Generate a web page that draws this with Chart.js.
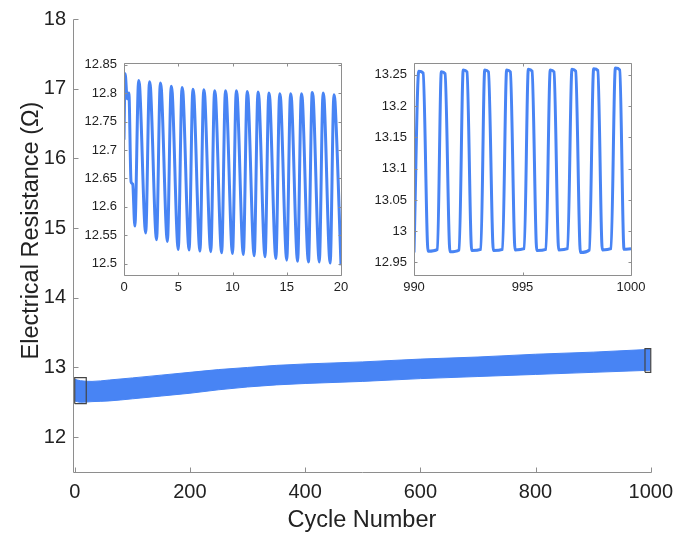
<!DOCTYPE html>
<html>
<head>
<meta charset="utf-8">
<title>Electrical resistance vs cycle number</title>
<script src="https://cdn.jsdelivr.net/npm/chart.js@4.4.1/dist/chart.umd.min.js"></script>
<style>
    body { margin: 0; background: #fff; }
    #wrap { position: relative; width: 681px; height: 538px; }
    #wrap canvas { position: absolute; left: 0; top: 0; }
</style>
</head>
<body>
<div id="wrap">
    <canvas id="mainChart" width="681" height="538"></canvas>
    <canvas id="leftInset" width="681" height="538"></canvas>
    <canvas id="rightInset" width="681" height="538"></canvas>
</div>
<script>
// envelope of the resistance band over all 1000 cycles
const bandX = [0, 10, 30, 60, 100, 150, 200, 250, 300, 350, 400, 500, 600, 700, 800, 900, 1000]
const bandUpper = [12.83, 12.81, 12.80, 12.82, 12.85, 12.89, 12.93, 12.97, 13.00, 13.03, 13.05, 13.08, 13.12, 13.15, 13.19, 13.22, 13.26]
const bandLower = [12.52, 12.50, 12.51, 12.52, 12.55, 12.59, 12.63, 12.68, 12.72, 12.75, 12.77, 12.80, 12.84, 12.87, 12.90, 12.93, 12.96]

// first 20 cycles
const leftX = [0, 0.1, 0.3, 0.45, 0.65, 0.8, 1.0,
    1.35, 1.45, 2.0, 2.35, 2.45, 3.0, 3.35, 3.45, 4.0, 4.35, 4.45, 5.0,
    5.35, 5.45, 6.0, 6.35, 6.45, 7.0, 7.35, 7.45, 8.0, 8.35, 8.45, 9.0,
    9.35, 9.45, 10.0, 10.35, 10.45, 11.0, 11.35, 11.45, 12.0, 12.35, 12.45, 13.0,
    13.35, 13.45, 14.0, 14.35, 14.45, 15.0, 15.35, 15.45, 16.0, 16.35, 16.45, 17.0,
    17.35, 17.45, 18.0, 18.35, 18.45, 19.0, 19.35, 19.45, 20.0]
const leftY = [12.718, 12.834, 12.790, 12.800, 12.644, 12.640, 12.566,
    12.822, 12.810, 12.554, 12.820, 12.808, 12.542, 12.818, 12.806, 12.539, 12.812, 12.800, 12.525,
    12.810, 12.798, 12.524, 12.807, 12.795, 12.522, 12.806, 12.794, 12.521, 12.804, 12.792, 12.519,
    12.804, 12.792, 12.518, 12.804, 12.792, 12.516, 12.803, 12.791, 12.514, 12.802, 12.790, 12.512,
    12.800, 12.788, 12.509, 12.799, 12.787, 12.506, 12.799, 12.787, 12.504, 12.799, 12.787, 12.503,
    12.801, 12.789, 12.503, 12.800, 12.788, 12.501, 12.797, 12.785, 12.497]

// last 10 cycles
const rightX = [990.0, 990.22, 990.42, 990.65, 991.08,
    991.26, 991.43, 991.66, 992.08, 992.27, 992.44, 992.66, 993.08,
    993.26, 993.43, 993.66, 994.08, 994.27, 994.44, 994.66, 995.08,
    995.27, 995.44, 995.66, 996.08, 996.28, 996.45, 996.67, 997.08,
    997.28, 997.45, 997.67, 998.08, 998.28, 998.47, 998.68, 999.08,
    999.28, 999.48, 999.68, 1000.0]
const rightY = [12.966, 13.256, 13.253, 12.968, 12.971,
    13.255, 13.252, 12.967, 12.970, 13.258, 13.255, 12.969, 12.971,
    13.258, 13.255, 12.969, 12.971, 13.258, 13.255, 12.970, 12.972,
    13.259, 13.256, 12.969, 12.971, 13.258, 13.255, 12.970, 12.972,
    13.259, 13.256, 12.966, 12.970, 13.260, 13.257, 12.970, 12.972,
    13.261, 13.258, 12.971, 12.972]

// axis limits of the two zoomed views
const leftRangeX = [0, 20]
const leftRangeY = [12.48, 12.853]
const rightRangeX = [990, 1000]
const rightRangeY = [12.93, 13.269]

// tick labels
const mainXTicks = [0, 200, 400, 600, 800, 1000]
const mainYTicks = [12, 13, 14, 15, 16, 17, 18]
const leftXTicks = [0, 5, 10, 15, 20]
const leftYTicks = [12.5, 12.55, 12.6, 12.65, 12.7, 12.75, 12.8, 12.85]
const rightXTicks = [990, 995, 1000]
const rightYTicks = [12.95, 13, 13.05, 13.1, 13.15, 13.2, 13.25]

const blue = '#4884f4'
const axisGray = '#8e8e8e'
const fontFamily = '"Liberation Sans", Arial, Helvetica, sans-serif'

Chart.defaults.font.family = fontFamily
Chart.defaults.color = '#222'
Chart.defaults.animation = false
Chart.defaults.plugins.legend.display = false
Chart.defaults.plugins.tooltip.enabled = false

const toPoints = (xs, ys) => xs.map((x, i) => ({ x: x, y: ys[i] }))
const boxPoints = (xr, yr) => [
    { x: xr[0], y: yr[0] }, { x: xr[1], y: yr[0] },
    { x: xr[1], y: yr[1] }, { x: xr[0], y: yr[1] }, { x: xr[0], y: yr[0] }
]
const plainNum = v => String(Math.round(v * 100) / 100)
const fixedTicks = values => scale => { scale.ticks = values.map(v => ({ value: v })) }

// matlab style axes: inward ticks, optional full box, optional y label
const frame = {
    id: 'frame',
    afterDatasetsDraw(chart, args, opts) {
        const { ctx, chartArea: a, scales: { x, y } } = chart
        const L = Math.round(a.left) + 0.5
        const R = Math.round(a.right) + 0.5
        const T = Math.round(a.top) + 0.5
        const B = Math.round(a.bottom) + 0.5
        ctx.save()
        ctx.strokeStyle = opts.color
        ctx.lineWidth = 1
        ctx.beginPath()
        if (opts.box) {
            ctx.rect(L, T, R - L, B - T)
        } else {
            ctx.moveTo(L, T)
            ctx.lineTo(L, B)
            ctx.lineTo(R, B)
        }
        x.ticks.forEach(t => {
            const px = Math.round(x.getPixelForValue(t.value)) + 0.5
            ctx.moveTo(px, B)
            ctx.lineTo(px, B - opts.len)
            if (opts.box) {
                ctx.moveTo(px, T)
                ctx.lineTo(px, T + opts.len)
            }
        })
        y.ticks.forEach(t => {
            const py = Math.round(y.getPixelForValue(t.value)) + 0.5
            ctx.moveTo(L, py)
            ctx.lineTo(L + opts.len, py)
            if (opts.box) {
                ctx.moveTo(R, py)
                ctx.lineTo(R - opts.len, py)
            }
        })
        ctx.stroke()

        if (opts.yLabel) {
            ctx.translate(32, (a.top + a.bottom) / 2 - 15)
            ctx.rotate(-Math.PI / 2)
            ctx.fillStyle = '#222'
            ctx.font = '23.5px ' + fontFamily
            ctx.textAlign = 'center'
            ctx.textBaseline = 'middle'
            ctx.fillText(opts.yLabel, 0, 0)
        }
        ctx.restore()
    }
}

const mainChart = new Chart(document.getElementById('mainChart'), {
    type: 'line',
    plugins: [frame],
    data: {
        datasets: [
            {
                data: boxPoints(leftRangeX, leftRangeY),
                borderColor: '#444',
                borderWidth: 1.2,
                pointRadius: 0,
                clip: 6
            },
            {
                data: boxPoints(rightRangeX, rightRangeY),
                borderColor: '#444',
                borderWidth: 1.2,
                pointRadius: 0,
                clip: 6
            },
            {
                data: toPoints(bandX, bandLower),
                borderColor: blue,
                borderWidth: 1,
                pointRadius: 0,
                cubicInterpolationMode: 'monotone'
            },
            {
                data: toPoints(bandX, bandUpper),
                borderColor: blue,
                backgroundColor: blue,
                borderWidth: 1,
                pointRadius: 0,
                cubicInterpolationMode: 'monotone',
                fill: 2
            }
        ]
    },
    options: {
        responsive: false,
        layout: {
            padding: { left: 0, top: 14, right: 25, bottom: 0 }
        },
        plugins: {
            frame: { box: false, len: 5, color: axisGray, yLabel: 'Electrical Resistance (Ω)' }
        },
        scales: {
            x: {
                type: 'linear',
                min: -3,
                max: 1000,
                grid: { display: false, drawTicks: false },
                border: { display: false },
                ticks: {
                    padding: 8,
                    maxRotation: 0,
                    font: { size: 20 },
                    callback: plainNum
                },
                title: {
                    display: true,
                    text: 'Cycle Number',
                    font: { size: 23.5 },
                    padding: { top: 0, bottom: 3 }
                },
                afterBuildTicks: fixedTicks(mainXTicks),
                afterFit: scale => { scale.height = 66 }
            },
            y: {
                min: 11.5,
                max: 18,
                grid: { display: false, drawTicks: false },
                border: { display: false },
                ticks: {
                    padding: 7,
                    font: { size: 20 },
                    callback: plainNum
                },
                afterBuildTicks: fixedTicks(mainYTicks),
                afterFit: scale => { scale.width = 73 }
            }
        }
    }
})

const insetOptions = (rangeX, rangeY, ticksX, ticksY, padLeft, padRight) => ({
    responsive: false,
    layout: {
        padding: { left: padLeft, top: 63, right: padRight, bottom: 238 }
    },
    plugins: {
        frame: { box: true, len: 3, color: axisGray }
    },
    scales: {
        x: {
            type: 'linear',
            min: rangeX[0],
            max: rangeX[1],
            grid: { display: false, drawTicks: false },
            border: { display: false },
            ticks: {
                padding: 5,
                maxRotation: 0,
                font: { size: 13 },
                callback: plainNum
            },
            afterBuildTicks: fixedTicks(ticksX),
            afterFit: scale => { scale.height = 25 }
        },
        y: {
            min: rangeY[0],
            max: rangeY[1],
            grid: { display: false, drawTicks: false },
            border: { display: false },
            ticks: {
                padding: 7,
                font: { size: 13 },
                callback: plainNum
            },
            afterBuildTicks: fixedTicks(ticksY),
            afterFit: scale => { scale.width = 50 }
        }
    }
})

const leftInset = new Chart(document.getElementById('leftInset'), {
    type: 'line',
    plugins: [frame],
    data: {
        datasets: [{
            data: toPoints(leftX, leftY),
            borderColor: blue,
            borderWidth: 3,
            pointRadius: 0,
            cubicInterpolationMode: 'monotone'
        }]
    },
    options: insetOptions(leftRangeX, leftRangeY, leftXTicks, leftYTicks, 74, 340)
})

const rightInset = new Chart(document.getElementById('rightInset'), {
    type: 'line',
    plugins: [frame],
    data: {
        datasets: [{
            data: toPoints(rightX, rightY),
            borderColor: blue,
            borderWidth: 3,
            pointRadius: 0,
            cubicInterpolationMode: 'monotone'
        }]
    },
    options: insetOptions(rightRangeX, rightRangeY, rightXTicks, rightYTicks, 364, 50)
})
</script>
</body>
</html>
